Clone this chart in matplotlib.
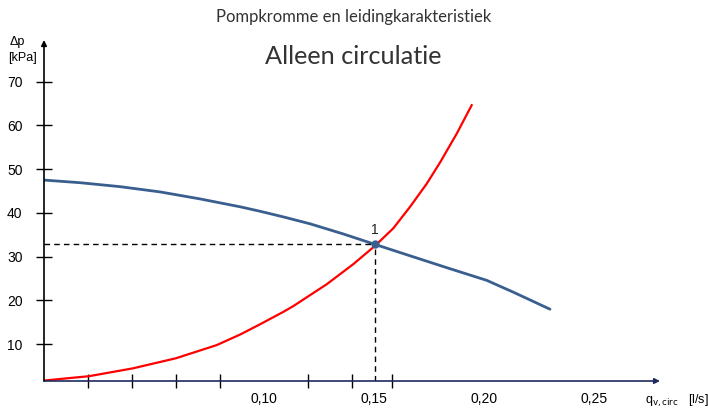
import numpy as np
import matplotlib.pyplot as plt

# pompkromme (blauw) en leidingkarakteristiek (rood)
pomp_q = [0.0, 0.0164, 0.0345, 0.0527, 0.0709, 0.0891, 0.098, 0.1095, 0.121, 0.136,
          0.1505, 0.1664, 0.183, 0.2012, 0.2133, 0.230]
pomp_dp = [47.5, 46.9, 46.0, 44.8, 43.2, 41.4, 40.4, 39.0, 37.5, 35.2,
           32.8, 30.2, 27.5, 24.6, 21.9, 18.0]

leiding_q = [0.0, 0.0205, 0.0405, 0.060, 0.0785, 0.0891, 0.098, 0.1088, 0.1133, 0.1285,
             0.1406, 0.1505, 0.1588, 0.1664, 0.174, 0.18, 0.1876, 0.1944]
leiding_dp = [1.7, 2.7, 4.5, 6.8, 9.8, 12.2, 14.5, 17.4, 18.7, 23.7,
              28.3, 32.5, 36.5, 41.4, 46.7, 51.5, 58.1, 64.6]

werkpunt_q = 0.1505
werkpunt_dp = 32.8

y_ticks = [10, 20, 30, 40, 50, 60, 70]
x_labels = [0.10, 0.15, 0.20, 0.25]
x_minor = [0.02, 0.04, 0.06, 0.08, 0.10, 0.12, 0.14, 0.158]

XMIN, XMAX = 0.0, 0.28
YMIN, YMAX = 1.6, 79.5

fig = plt.figure(figsize=(7.08, 4.09), dpi=100)
ax = fig.add_axes([44 / 708, 28 / 409, 616 / 708, 341 / 409])
ax.set_xlim(XMIN, XMAX)
ax.set_ylim(YMIN, YMAX)
for s in ax.spines.values():
    s.set_visible(False)

# assen met pijlen
ax.annotate('', xy=(1.0, 0), xytext=(0, 0), xycoords='axes fraction',
            arrowprops=dict(arrowstyle='-|>', color='#1f2a5c', lw=1.2,
                            mutation_scale=8, shrinkA=0, shrinkB=0))
ax.annotate('', xy=(0, 1.0), xytext=(0, 0), xycoords='axes fraction',
            arrowprops=dict(arrowstyle='-|>', color='black', lw=1.2,
                            mutation_scale=8, shrinkA=0, shrinkB=0))

ax.plot(pomp_q, pomp_dp, color='#3a5f8f', lw=2, solid_capstyle='round', solid_joinstyle='round')
ax.plot(leiding_q, leiding_dp, color='#ff0000', lw=1.6, solid_joinstyle='round')

# werkpunt
ax.plot([XMIN, werkpunt_q], [werkpunt_dp, werkpunt_dp], color='black', lw=1, ls=(0, (4, 3)))
ax.plot([werkpunt_q, werkpunt_q], [YMIN, werkpunt_dp], color='black', lw=1, ls=(0, (4, 3)))
ax.plot([werkpunt_q], [werkpunt_dp], 'o', color='#3a5f8f', ms=5)
ax.text(werkpunt_q, werkpunt_dp + 1.8, '1', ha='center', va='bottom',
        fontsize=10, family='Liberation Sans', color='#222222')

# ticks
ax.set_yticks(y_ticks)
ax.set_yticklabels([str(v) for v in y_ticks], family='Liberation Sans', fontsize=10)
ax.tick_params(axis='y', direction='inout', length=11, width=1, pad=10)
ax.set_xticks(x_labels)
ax.set_xticklabels(['0,10', '0,15', '0,20', '0,25'], family='Liberation Sans', fontsize=10)
ax.set_xticks(x_minor, minor=True)
ax.tick_params(axis='x', which='major', length=0, pad=8)
ax.tick_params(axis='x', which='minor', direction='inout', length=10, width=1, color='black')

# aslabels
fig.text(10 / 708, 1 - 42 / 409, 'Δp', family='Liberation Sans', fontsize=9, va='center')
fig.text(8 / 708, 1 - 58 / 409, '[kPa]', family='Liberation Sans', fontsize=9, va='center')
fig.text(645 / 708, 1 - 401 / 409, r'q$_{\mathrm{v,circ}}$   [l/s]', family='Liberation Sans',
         fontsize=9, va='center')

# titels
fig.text(354 / 708, 1 - 17 / 409, 'Pompkromme en leidingkarakteristiek',
         family='Lato', fontsize=12, ha='center', va='center', color='#333333')
fig.text(353 / 708, 1 - 56 / 409, 'Alleen circulatie',
         family='Lato', fontsize=18.2, ha='center', va='center', color='#333333')

fig.savefig('out.png', dpi=100)
